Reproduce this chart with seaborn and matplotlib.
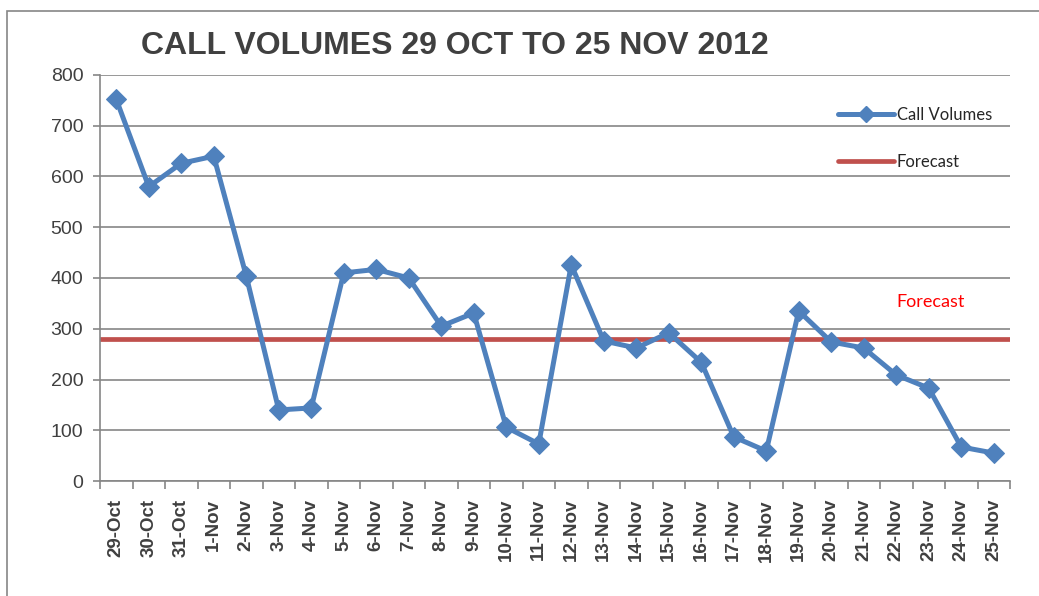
import pandas as pd
import seaborn as sns
import matplotlib.pyplot as plt
from matplotlib.lines import Line2D
from matplotlib.patches import Rectangle
from matplotlib.ticker import MultipleLocator

dates = ['29-Oct', '30-Oct', '31-Oct', '1-Nov', '2-Nov', '3-Nov', '4-Nov',
         '5-Nov', '6-Nov', '7-Nov', '8-Nov', '9-Nov', '10-Nov', '11-Nov',
         '12-Nov', '13-Nov', '14-Nov', '15-Nov', '16-Nov', '17-Nov', '18-Nov',
         '19-Nov', '20-Nov', '21-Nov', '22-Nov', '23-Nov', '24-Nov', '25-Nov']
call_volumes = [752, 580, 626, 640, 404, 140, 144, 410, 417, 400, 305, 331,
                106, 73, 426, 276, 262, 292, 234, 87, 59, 335, 274, 262,
                209, 183, 67, 55]
forecast = 280

BLUE = '#4F81BD'
RED = '#C0504D'
GRID = '#868686'
TEXT = '#404040'


def main():
    df = pd.DataFrame({'date': dates, 'calls': call_volumes})

    sns.set_theme(style='white')
    plt.rcParams['font.family'] = ['Liberation Sans', 'DejaVu Sans']

    fig = plt.figure(figsize=(10.39, 5.96), dpi=100)
    ax = fig.add_axes([100 / 1039, 1 - 481 / 596, 910 / 1039, 406 / 596])

    # outer chart border like the Excel chart area
    fig.patches.append(Rectangle((7 / 1039, -0.1), 1.2, 1.1 - 11 / 596,
                                 transform=fig.transFigure, fill=False,
                                 edgecolor=GRID, linewidth=1.2))

    ax.axhline(forecast, color=RED, linewidth=3.4, solid_capstyle='round', zorder=2)
    sns.lineplot(data=df, x='date', y='calls', sort=False, ax=ax, color=BLUE,
                 linewidth=3.6, marker='D', markersize=10.5, markeredgecolor=BLUE,
                 zorder=3)

    ax.set_xlim(-0.5, len(dates) - 0.5)
    ax.set_ylim(0, 800)
    ax.yaxis.set_major_locator(MultipleLocator(100))
    ax.grid(axis='y', color=GRID, linewidth=1.2)
    ax.set_axisbelow(True)

    for s in ['top', 'right']:
        ax.spines[s].set_visible(False)
    for s in ['left', 'bottom']:
        ax.spines[s].set_color(GRID)
        ax.spines[s].set_linewidth(1.2)

    ax.set_xlabel('')
    ax.set_ylabel('')
    ax.set_xticks(range(len(dates)))
    ax.set_xticklabels(dates, rotation=90, fontsize=13.5, fontweight='bold', color=TEXT)
    ax.set_xticks([i - 0.5 for i in range(len(dates) + 1)], minor=True)
    ax.tick_params(axis='x', which='major', length=0, pad=13)
    ax.tick_params(axis='x', which='minor', length=6, width=1.2, color=GRID, direction='out', bottom=True)
    ax.tick_params(axis='y', length=5, width=1.2, color=GRID, left=True, labelsize=14, labelcolor=TEXT, pad=7)

    fig.text(0.438, 0.922, 'CALL VOLUMES 29 OCT TO 25 NOV 2012', ha='center', va='center',
             fontsize=23, fontweight='bold', color=TEXT)

    handles = [Line2D([], [], color=BLUE, linewidth=3.6, marker='D', markersize=8),
               Line2D([], [], color=RED, linewidth=3.4)]
    ax.legend(handles, ['Call Volumes', 'Forecast'], loc='upper left',
              bbox_to_anchor=(0.794, 0.958), frameon=False,
              handlelength=3.4, handletextpad=0.15, labelspacing=1.85,
              prop={'family': ['Lato', 'DejaVu Sans'], 'size': 12})

    ax.text(24.0, 353, 'Forecast', color='#FF0000', fontsize=13,
            family=['Lato', 'DejaVu Sans'], ha='left', va='center')

    fig.savefig('out.png', dpi=100)
    plt.close(fig)


if __name__ == '__main__':
    main()
